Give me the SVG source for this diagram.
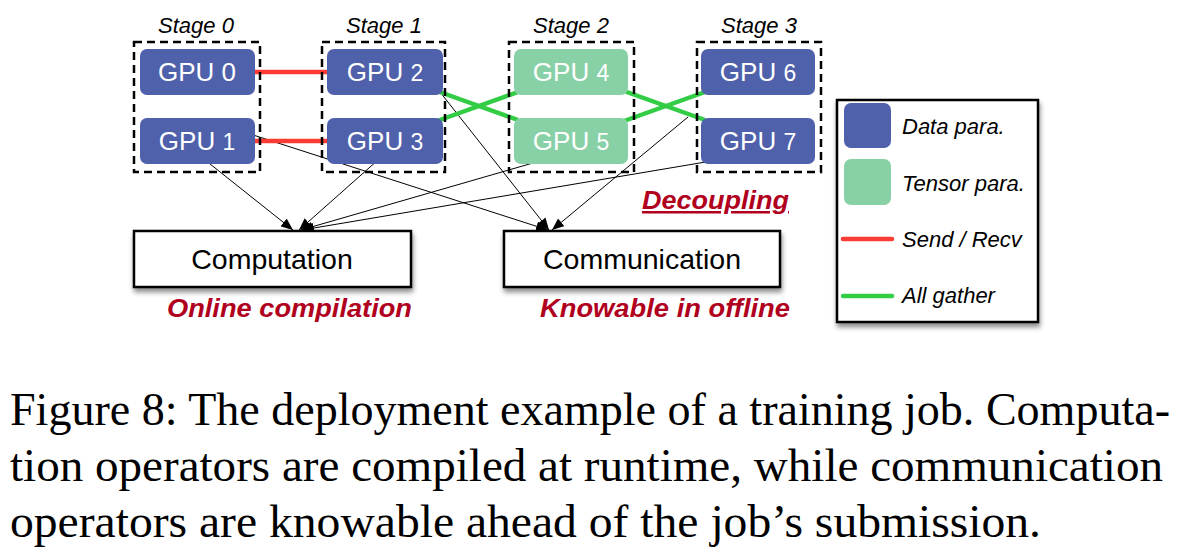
<svg xmlns="http://www.w3.org/2000/svg" width="1195" height="552" viewBox="0 0 1195 552">
<defs>
<style>
.stage{fill:none;stroke:#000;stroke-width:2.5;stroke-dasharray:8 5}
.dp{fill:#4F61AB}
.tp{fill:#88D0A6}
.gt{font-family:"Liberation Sans",Arial,sans-serif;font-size:26px;fill:#fff;text-anchor:middle}
.gt tspan{font-size:23px}
.st{font-family:"Liberation Sans",Arial,sans-serif;font-style:italic;font-size:22px;fill:#000;text-anchor:middle}
.sr{stroke:#FA3C34;stroke-width:4.5;fill:none}
.ag{stroke:#32CD45;stroke-width:4.5;fill:none}
.ar{stroke:#000;stroke-width:1;fill:none;marker-end:url(#ah)}
.box{fill:#fff;stroke:#000;stroke-width:2.5;filter:url(#sh)}
.bt{font-family:"Liberation Sans",Arial,sans-serif;font-size:28.5px;fill:#000;text-anchor:middle}
.em{font-family:"Liberation Sans",Arial,sans-serif;font-style:italic;font-weight:bold;font-size:25px;fill:#B0001E}
.lt{font-family:"Liberation Sans",Arial,sans-serif;font-style:italic;font-size:22px;fill:#000}
.cap{font-family:"Liberation Serif","Times New Roman",serif;font-size:46px;fill:#000}
</style>
<marker id="ah" markerUnits="userSpaceOnUse" markerWidth="12" markerHeight="10" refX="12" refY="5" orient="auto">
<path d="M0,0 L12,5 L0,10 z" fill="#000"/>
</marker>
<filter id="sh" x="-10%" y="-10%" width="125%" height="140%">
<feDropShadow dx="1" dy="4" stdDeviation="2.5" flood-color="#000" flood-opacity="0.45"/>
</filter>
</defs>
<rect width="1195" height="552" fill="#fff"/>

<g id="connectors">
<line class="ar" x1="195" y1="152" x2="293" y2="230"/>
<line class="ar" x1="387" y1="152" x2="299" y2="230"/>
<line class="ar" x1="571" y1="152" x2="301" y2="230"/>
<line class="ar" x1="765" y1="152" x2="302" y2="230"/>
<line class="ar" x1="250" y1="134" x2="548" y2="230"/>
<line class="ar" x1="440" y1="92" x2="549" y2="230"/>
<line class="ar" x1="688" y1="117" x2="552" y2="230"/>
<line class="sr" x1="255" y1="72" x2="327" y2="72"/>
<line class="sr" x1="255" y1="141" x2="327" y2="141"/>
<line class="ag" x1="437" y1="91" x2="518" y2="120"/>
<line class="ag" x1="437" y1="121" x2="518" y2="92"/>
<line class="ag" x1="624" y1="91" x2="705" y2="120"/>
<line class="ag" x1="624" y1="121" x2="705" y2="92"/>
</g>

<g id="stage0">
<text class="st" x="196" y="33">Stage 0</text>
<rect class="stage" x="134" y="42" width="126" height="130"/>
</g>
<g id="stage1">
<text class="st" x="384" y="33">Stage 1</text>
<rect class="stage" x="322" y="42" width="123" height="130"/>
</g>
<g id="stage2">
<text class="st" x="571" y="33">Stage 2</text>
<rect class="stage" x="509" y="42" width="125" height="130"/>
</g>
<g id="stage3">
<text class="st" x="759" y="33">Stage 3</text>
<rect class="stage" x="697" y="42" width="124" height="130"/>
</g>

<g id="gpu0"><rect class="dp" x="140" y="49" width="115" height="46" rx="7"/><text class="gt" x="197" y="81">GPU 0</text></g>
<g id="gpu1"><rect class="dp" x="140" y="118" width="115" height="46" rx="7"/><text class="gt" x="197" y="150">GPU <tspan>1</tspan></text></g>
<g id="gpu2"><rect class="dp" x="327" y="49" width="116" height="46" rx="7"/><text class="gt" x="385" y="81">GPU <tspan>2</tspan></text></g>
<g id="gpu3"><rect class="dp" x="327" y="118" width="116" height="46" rx="7"/><text class="gt" x="385" y="150">GPU <tspan>3</tspan></text></g>
<g id="gpu4"><rect class="tp" x="514" y="49" width="114" height="46" rx="7"/><text class="gt" x="571" y="81">GPU <tspan>4</tspan></text></g>
<g id="gpu5"><rect class="tp" x="514" y="118" width="114" height="46" rx="7"/><text class="gt" x="571" y="150">GPU <tspan>5</tspan></text></g>
<g id="gpu6"><rect class="dp" x="701" y="49" width="114" height="46" rx="7"/><text class="gt" x="758" y="81">GPU <tspan>6</tspan></text></g>
<g id="gpu7"><rect class="dp" x="701" y="118" width="114" height="46" rx="7"/><text class="gt" x="758" y="150">GPU <tspan>7</tspan></text></g>

<g id="computation">
<rect class="box" x="134" y="231" width="277" height="56"/>
<text class="bt" x="272" y="269">Computation</text>
<text class="em" x="167" y="317" textLength="245" lengthAdjust="spacingAndGlyphs">Online compilation</text>
</g>
<g id="communication">
<rect class="box" x="504" y="231" width="276" height="56"/>
<text class="bt" x="642" y="269">Communication</text>
<text class="em" x="540" y="317" textLength="250" lengthAdjust="spacingAndGlyphs">Knowable in offline</text>
</g>
<g id="decoupling">
<text class="em" x="642" y="209" textLength="147" lengthAdjust="spacingAndGlyphs" text-decoration="underline">Decoupling</text>
</g>

<g id="legend">
<rect class="box" x="837" y="100" width="201" height="222" stroke-width="1.5"/>
<rect class="dp" x="844" y="103" width="47" height="45" rx="7"/>
<text class="lt" x="902" y="134">Data para.</text>
<rect class="tp" x="844" y="159" width="47" height="46" rx="7"/>
<text class="lt" x="902" y="191" textLength="123" lengthAdjust="spacingAndGlyphs">Tensor para.</text>
<line class="sr" x1="843" y1="239" x2="892" y2="239" stroke-width="4" stroke-linecap="round"/>
<text class="lt" x="902" y="247">Send / Recv</text>
<line class="ag" x1="843" y1="296" x2="892" y2="296" stroke-width="4" stroke-linecap="round"/>
<text class="lt" x="902" y="303">All gather</text>
</g>

<g id="caption">
<text class="cap" x="10" y="425" textLength="1160" lengthAdjust="spacingAndGlyphs">Figure 8: The deployment example of a training job. Computa-</text>
<text class="cap" x="10" y="481" textLength="1153" lengthAdjust="spacingAndGlyphs">tion operators are compiled at runtime, while communication</text>
<text class="cap" x="10" y="537" textLength="1031" lengthAdjust="spacingAndGlyphs">operators are knowable ahead of the job’s submission.</text>
</g>
</svg>
